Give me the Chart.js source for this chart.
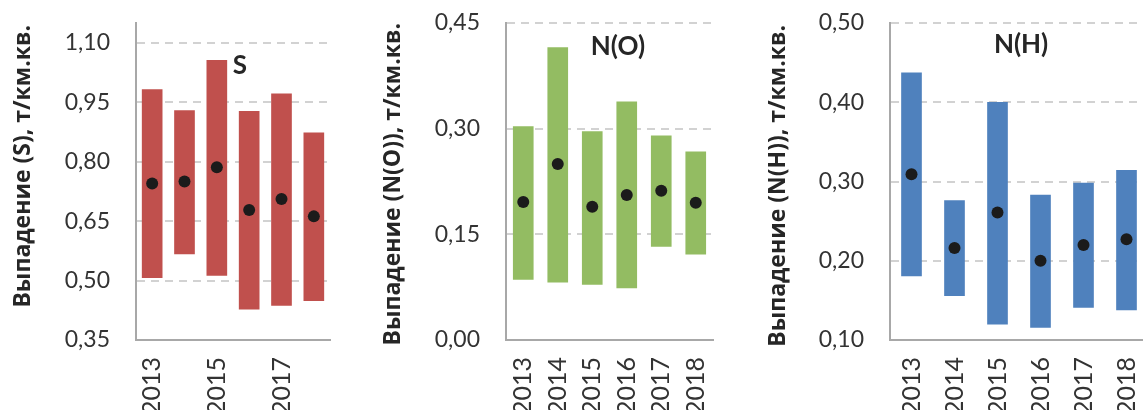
<!DOCTYPE html>
<html>
<head>
<meta charset="utf-8">
<script src="https://cdn.jsdelivr.net/npm/chart.js@4/dist/chart.umd.min.js"></script>
<style>
  html, body { margin: 0; padding: 0; background: #fff; overflow: hidden; width: 1143px; height: 410px; }
  canvas { position: absolute; top: 0; }
</style>
</head>
<body>
<canvas id="chartS" width="380" height="430" style="left:0px"></canvas>
<canvas id="chartNO" width="380" height="430" style="left:380px"></canvas>
<canvas id="chartNH" width="400" height="430" style="left:760px"></canvas>
<script>
const years = ['2013', '2014', '2015', '2016', '2017', '2018'];

// S
const sLow  = [0.507, 0.567, 0.513, 0.428, 0.437, 0.449];
const sHigh = [0.982, 0.929, 1.056, 0.927, 0.971, 0.873];
const sMean = [0.745, 0.750, 0.786, 0.678, 0.706, 0.662];
const sTicks = [0.35, 0.50, 0.65, 0.80, 0.95, 1.10];

// N(O)
const noLow  = [0.086, 0.082, 0.079, 0.074, 0.133, 0.122];
const noHigh = [0.303, 0.415, 0.296, 0.338, 0.290, 0.267];
const noMean = [0.196, 0.250, 0.189, 0.206, 0.212, 0.195];
const noTicks = [0.00, 0.15, 0.30, 0.45];

// N(H)
const nhLow  = [0.181, 0.156, 0.120, 0.116, 0.141, 0.138];
const nhHigh = [0.437, 0.276, 0.400, 0.283, 0.298, 0.314];
const nhMean = [0.309, 0.216, 0.261, 0.200, 0.220, 0.227];
const nhTicks = [0.10, 0.20, 0.30, 0.40, 0.50];

// panel name inside the plot + rotated y axis title
const panelText = {
  id: 'panelText',
  afterDraw(chart, args, opts) {
    const ctx = chart.ctx, area = chart.chartArea;
    ctx.save();
    ctx.fillStyle = '#262626';
    ctx.font = 'bold 26px Lato';
    ctx.textAlign = 'center';
    ctx.textBaseline = 'middle';
    ctx.fillText(opts.label, area.left + opts.fx * (area.right - area.left), opts.y);

    ctx.translate(opts.titleX, area.top + opts.titleDy);
    ctx.rotate(-Math.PI / 2);
    ctx.font = 'bold 23px "Open Sans"';
    ctx.textAlign = 'right';
    ctx.fillText(opts.title, 0, 0);
    ctx.restore();
  }
};

function makeChart(id, cfg) {
  const ranges = years.map((y, i) => [cfg.low[i], cfg.high[i]]);
  return new Chart(document.getElementById(id), {
    type: 'bar',
    data: {
      labels: years,
      datasets: [
        {
          type: 'line',
          data: cfg.mean,
          showLine: false,
          pointRadius: 6,
          pointBackgroundColor: '#1b1b1b',
          pointBorderWidth: 0,
          order: 1
        },
        {
          data: ranges,
          backgroundColor: cfg.color,
          borderWidth: 0,
          barThickness: 20,
          order: 2
        }
      ]
    },
    options: {
      responsive: false,
      animation: false,
      layout: { padding: { left: 0, top: 23, right: cfg.padRight, bottom: 0 } },
      plugins: {
        legend: { display: false },
        tooltip: { enabled: false },
        panelText: {
          label: cfg.label, fx: cfg.labelFx, y: cfg.labelY,
          title: cfg.title, titleX: cfg.titleX, titleDy: cfg.titleDy
        }
      },
      scales: {
        x: {
          grid: { display: false, drawTicks: false },
          border: { display: true, color: '#a8a8a8', width: 2 },
          ticks: {
            autoSkip: false,
            minRotation: 90,
            maxRotation: 90,
            padding: 17,
            color: '#333',
            font: { family: 'Lato', size: 25 },
            callback: function (v, i) {
              return (i % cfg.xStep === 0) ? this.getLabelForValue(v) : '';
            }
          },
          afterFit: function (scale) {
            scale.height = 90;
            scale.paddingLeft = 0;
            scale.paddingRight = 0;
          }
        },
        y: {
          min: cfg.min,
          max: cfg.max,
          afterBuildTicks: function (scale) {
            scale.ticks = cfg.ticks.map(v => ({ value: v }));
          },
          grid: { color: '#d2d2d2', lineWidth: 2, drawTicks: false, z: -1 },
          border: { display: true, color: '#a8a8a8', width: 2, dash: [8, 6] },
          ticks: {
            padding: 26,
            color: '#333',
            font: { family: 'Lato', size: 23 },
            callback: v => v.toFixed(2).replace('.', ',')
          },
          afterFit: function (scale) {
            scale.width = cfg.axisW;
            scale.paddingTop = 0;
            scale.paddingBottom = 0;
          }
        }
      }
    },
    plugins: [panelText]
  });
}

makeChart('chartS', {
  low: sLow, high: sHigh, mean: sMean, ticks: sTicks,
  min: 0.35, max: 1.15, color: '#c0504d',
  title: 'Выпадение (S), т/км.кв.', titleX: 23, titleDy: 2,
  axisW: 136, padRight: 50, xStep: 2,
  label: 'S', labelFx: 0.536, labelY: 66
});

makeChart('chartNO', {
  low: noLow, high: noHigh, mean: noMean, ticks: noTicks,
  min: 0, max: 0.45, color: '#93bc62',
  title: 'Выпадение (N(O)), т/км.кв.', titleX: 13, titleDy: 0,
  axisW: 126, padRight: 47, xStep: 1,
  label: 'N(O)', labelFx: 0.541, labelY: 47
});

makeChart('chartNH', {
  low: nhLow, high: nhHigh, mean: nhMean, ticks: nhTicks,
  min: 0.1, max: 0.5, color: '#4f81bd',
  title: 'Выпадение (N(H)), т/км.кв.', titleX: 18, titleDy: 2,
  axisW: 130, padRight: 12, xStep: 1,
  label: 'N(H)', labelFx: 0.508, labelY: 45
});
</script>
</body>
</html>
